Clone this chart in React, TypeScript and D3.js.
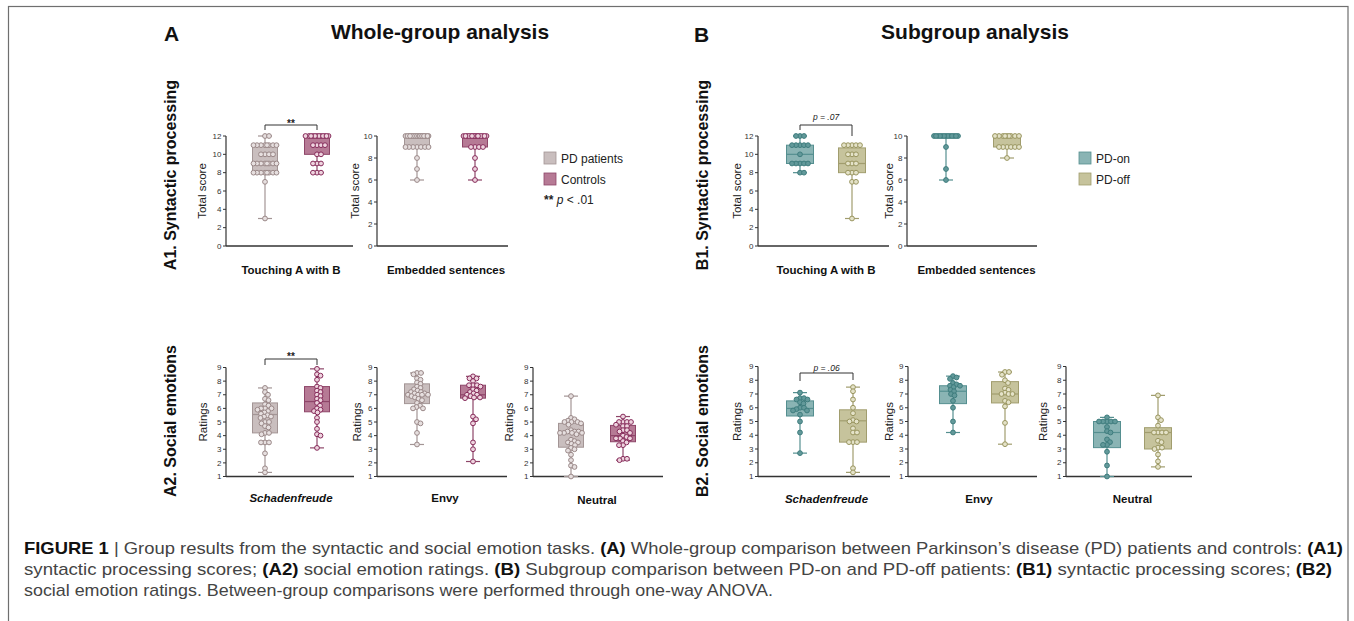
import React from "react";
import * as d3 from "d3";

// ---- values ----
// A1: syntactic processing (total score)
const touchPD = [12, 12, 11, 11, 11, 11, 11, 11, 11, 11, 10, 10, 10, 10, 9, 9, 9, 9, 9, 9, 9, 9, 8, 8, 8, 8, 8, 8, 8, 8, 7, 3];
const touchCtrl = [12, 12, 12, 12, 12, 12, 12, 12, 12, 12, 12, 12, 11, 11, 11, 11, 10, 10, 9, 9, 9, 8, 8, 8];
const embPD = [10, 10, 10, 10, 10, 10, 10, 10, 10, 10, 10, 10, 10, 10, 10, 10, 10, 10, 10, 10, 10, 10, 9, 9, 9, 9, 9, 9, 9, 8, 7, 6];
const embCtrl = [10, 10, 10, 10, 10, 10, 10, 10, 10, 10, 10, 10, 10, 10, 10, 10, 10, 9, 9, 9, 9, 8, 7, 6];
// A2: social emotions (ratings)
const schPD = [7.5, 7.2, 7.0, 6.7, 6.6, 6.3, 6.2, 6.0, 6.0, 6.0, 5.9, 5.8, 5.7, 5.6, 5.5, 5.4, 5.4, 5.3, 5.0, 5.0, 4.9, 4.7, 4.6, 4.2, 4.2, 4.1, 3.5, 3.5, 3.5, 2.7, 1.6, 1.3];
const schCtrl = [8.9, 8.5, 8.4, 8.1, 7.6, 7.5, 7.3, 7.2, 7.0, 6.9, 6.7, 6.6, 6.4, 6.2, 6.0, 5.9, 5.8, 5.7, 5.3, 5.0, 4.5, 4.1, 4.0, 3.1];
const envyPD = [8.6, 8.6, 8.5, 8.2, 8.1, 7.9, 7.8, 7.6, 7.5, 7.4, 7.3, 7.2, 7.2, 7.1, 7.1, 7.0, 7.0, 7.0, 7.0, 6.9, 6.8, 6.7, 6.6, 6.4, 6.2, 6.1, 6.0, 6.0, 5.0, 4.9, 4.2, 3.35];
const envyCtrl = [8.35, 8.2, 8.2, 8.0, 7.7, 7.7, 7.7, 7.6, 7.4, 7.3, 7.2, 7.1, 7.0, 7.0, 6.9, 6.8, 6.8, 6.75, 5.4, 5.2, 4.9, 3.5, 3.0, 2.1];
const neutPD = [6.9, 5.3, 5.2, 5.1, 5.0, 5.0, 5.0, 4.9, 4.8, 4.4, 4.3, 4.3, 4.3, 4.2, 4.2, 4.2, 4.2, 4.1, 3.7, 3.6, 3.5, 3.5, 3.4, 3.3, 3.1, 3.0, 2.9, 2.6, 2.2, 1.8, 1.7, 1.0];
const neutCtrl = [5.4, 5.0, 5.0, 5.0, 5.0, 4.8, 4.7, 4.7, 4.4, 4.4, 4.3, 4.2, 4.0, 3.9, 3.8, 3.8, 3.8, 3.6, 3.5, 3.3, 3.3, 2.3, 2.3, 2.2];
// B1 / B2: PD-on vs PD-off
const touchOn = [12, 12, 12, 11, 11, 11, 11, 11, 10, 9, 9, 9, 9, 9, 8, 8];
const touchOff = [11, 11, 11, 11, 11, 10, 10, 10, 9, 9, 9, 8, 8, 8, 7, 7, 3];
const embOn = [10, 10, 10, 10, 10, 10, 10, 10, 10, 10, 10, 10, 10, 9, 7, 6];
const embOff = [10, 10, 10, 10, 10, 10, 10, 10, 10, 9, 9, 9, 9, 9, 9, 8];
const schOn = [7.1, 6.7, 6.7, 6.6, 6.6, 6.4, 6.3, 6.0, 6.0, 5.9, 5.8, 5.8, 5.5, 5.0, 4.2, 2.7];
const schOff = [7.5, 7.2, 6.6, 6.0, 5.6, 5.1, 5.0, 5.0, 4.5, 4.2, 4.2, 3.5, 3.5, 3.5, 1.6, 1.3];
const envyOn = [8.3, 8.2, 8.1, 7.8, 7.7, 7.6, 7.6, 7.5, 7.3, 7.2, 7.0, 6.9, 6.5, 6.0, 5.0, 4.2];
const envyOff = [8.6, 8.6, 8.4, 8.0, 7.8, 7.4, 7.3, 7.1, 7.0, 7.0, 7.0, 6.5, 6.4, 6.1, 4.9, 3.35];
const neutOn = [5.3, 5.0, 5.0, 5.0, 5.0, 5.0, 4.6, 4.3, 4.2, 3.7, 3.5, 3.3, 3.3, 2.8, 1.8, 1.0];
const neutOff = [6.9, 5.3, 5.1, 4.7, 4.2, 4.2, 4.2, 4.2, 3.6, 3.5, 3.1, 3.1, 3.0, 2.6, 2.1, 1.7];

// box stats as drawn: [q1, median, q3]
const touchPDBox = [8, 9, 11];
const touchCtrlBox = [10, 12, 12];
const embPDBox = [9, 10, 10];
const embCtrlBox = [9, 10, 10];
const schPDBox = [4.2, 5.55, 6.4];
const schCtrlBox = [5.75, 6.5, 7.6];
const envyPDBox = [6.35, 7.05, 7.8];
const envyCtrlBox = [6.75, 7.0, 7.7];
const neutPDBox = [3.15, 4.2, 4.9];
const neutCtrlBox = [3.55, 4.0, 4.75];
const touchOnBox = [9, 10, 11];
const touchOffBox = [8, 9, 10.7];
const embOnBox = [10, 10, 10];
const embOffBox = [9, 10, 10];
const schOnBox = [5.4, 5.95, 6.5];
const schOffBox = [3.5, 5.05, 5.85];
const envyOnBox = [6.3, 7.2, 7.6];
const envyOffBox = [6.35, 7.0, 7.9];
const neutOnBox = [3.1, 4.2, 5.0];
const neutOffBox = [3.0, 4.2, 4.55];

const scoreTicks12 = [0, 2, 4, 6, 8, 10, 12];
const scoreTicks10 = [0, 2, 4, 6, 8, 10];
const ratingTicks = [1, 2, 3, 4, 5, 6, 7, 8, 9];

const FONT = "'Liberation Sans', Arial, Helvetica, sans-serif";

type Sty = { fill: string; edge: string; dot: string; dotFill: string };
const PD: Sty = { fill: "#c9bebe", edge: "#a39595", dot: "#9a8888", dotFill: "#e6dfdf" };
const CTRL: Sty = { fill: "#b67a95", edge: "#8e4669", dot: "#862b5a", dotFill: "#eed3de" };
const ON: Sty = { fill: "#8ab4b4", edge: "#558f90", dot: "#3f7d7e", dotFill: "#62999a" };
const OFF: Sty = { fill: "#c6c39c", edge: "#a19d6e", dot: "#99955f", dotFill: "#e4e2c8" };

type Group = { vals: number[]; box: number[]; st: Sty };
type Bracket = { y: number; l: number; r: number; label: string; ly: number; italic: boolean };
type PanelDef = {
  x: number; x2: number; y0: number; y1: number; dom: number[]; ticks: number[];
  yTitle: string; yTitleX: number; cat: string; italic: boolean; catY: number;
  cx: number[]; groups: Group[]; bw: number; bracket?: Bracket;
};

const panels: PanelDef[] = [
  { x: 226, x2: 353, y0: 246, y1: 136, dom: [0, 12], ticks: scoreTicks12, yTitle: "Total score", yTitleX: 206, cat: "Touching A with B", italic: false, catY: 274, cx: [265, 317], bw: 25,
    groups: [{ vals: touchPD, box: touchPDBox, st: PD }, { vals: touchCtrl, box: touchCtrlBox, st: CTRL }],
    bracket: { y: 125, l: 130, r: 130, label: "**", ly: 126.5, italic: false } },
  { x: 377, x2: 508, y0: 246, y1: 136, dom: [0, 10], ticks: scoreTicks10, yTitle: "Total score", yTitleX: 359, cat: "Embedded sentences", italic: false, catY: 274, cx: [417, 475], bw: 25,
    groups: [{ vals: embPD, box: embPDBox, st: PD }, { vals: embCtrl, box: embCtrlBox, st: CTRL }] },
  { x: 226, x2: 354, y0: 476.5, y1: 367.5, dom: [1, 9], ticks: ratingTicks, yTitle: "Ratings", yTitleX: 207, cat: "Schadenfreude", italic: true, catY: 502, cx: [265, 317], bw: 25,
    groups: [{ vals: schPD, box: schPDBox, st: PD }, { vals: schCtrl, box: schCtrlBox, st: CTRL }],
    bracket: { y: 359, l: 365, r: 365, label: "**", ly: 360, italic: false } },
  { x: 377, x2: 507, y0: 476.5, y1: 367.5, dom: [1, 9], ticks: ratingTicks, yTitle: "Ratings", yTitleX: 361, cat: "Envy", italic: false, catY: 502, cx: [417, 473], bw: 25,
    groups: [{ vals: envyPD, box: envyPDBox, st: PD }, { vals: envyCtrl, box: envyCtrlBox, st: CTRL }] },
  { x: 533, x2: 663, y0: 476.5, y1: 367.5, dom: [1, 9], ticks: ratingTicks, yTitle: "Ratings", yTitleX: 513, cat: "Neutral", italic: false, catY: 504, cx: [571, 623], bw: 25,
    groups: [{ vals: neutPD, box: neutPDBox, st: PD }, { vals: neutCtrl, box: neutCtrlBox, st: CTRL }] },
  { x: 758, x2: 889, y0: 246, y1: 136, dom: [0, 12], ticks: scoreTicks12, yTitle: "Total score", yTitleX: 741, cat: "Touching A with B", italic: false, catY: 274, cx: [800, 852], bw: 27,
    groups: [{ vals: touchOn, box: touchOnBox, st: ON }, { vals: touchOff, box: touchOffBox, st: OFF }],
    bracket: { y: 125, l: 130, r: 136, label: "p = .07", ly: 120, italic: true } },
  { x: 907, x2: 1037, y0: 246, y1: 136, dom: [0, 10], ticks: scoreTicks10, yTitle: "Total score", yTitleX: 893, cat: "Embedded sentences", italic: false, catY: 274, cx: [946, 1007], bw: 27,
    groups: [{ vals: embOn, box: embOnBox, st: ON }, { vals: embOff, box: embOffBox, st: OFF }] },
  { x: 758, x2: 890, y0: 476.5, y1: 366.5, dom: [1, 9], ticks: ratingTicks, yTitle: "Ratings", yTitleX: 741, cat: "Schadenfreude", italic: true, catY: 503, cx: [800, 853], bw: 27,
    groups: [{ vals: schOn, box: schOnBox, st: ON }, { vals: schOff, box: schOffBox, st: OFF }],
    bracket: { y: 373, l: 381, r: 380, label: "p = .06", ly: 370.5, italic: true } },
  { x: 908, x2: 1037, y0: 476.5, y1: 366.5, dom: [1, 9], ticks: ratingTicks, yTitle: "Ratings", yTitleX: 893, cat: "Envy", italic: false, catY: 503, cx: [953, 1005], bw: 27,
    groups: [{ vals: envyOn, box: envyOnBox, st: ON }, { vals: envyOff, box: envyOffBox, st: OFF }] },
  { x: 1066, x2: 1192, y0: 476.5, y1: 366.5, dom: [1, 9], ticks: ratingTicks, yTitle: "Ratings", yTitleX: 1047, cat: "Neutral", italic: false, catY: 503, cx: [1107, 1158], bw: 27,
    groups: [{ vals: neutOn, box: neutOnBox, st: ON }, { vals: neutOff, box: neutOffBox, st: OFF }] },
];

const R = 2.4;

// simple beeswarm: equal/close values spread sideways, kept inside the box width
function swarm(vals: number[], y: (v: number) => number, half: number) {
  const pts = vals.map((v) => ({ v, py: y(v), dx: 0 })).sort((a, b) => a.py - b.py);
  const placed: { py: number; dx: number }[] = [];
  const minD = 2 * R * 0.78;
  const cands = [0];
  for (let s = 0.5; s <= half; s += 0.5) cands.push(s, -s);
  for (const p of pts) {
    let best = 0, bestScore = -Infinity;
    for (const c of cands) {
      let md = Infinity;
      for (const q of placed) {
        const d = Math.hypot(c - q.dx, p.py - q.py);
        if (d < md) md = d;
      }
      if (md >= minD) { best = c; break; }
      if (md > bestScore) { bestScore = md; best = c; }
    }
    p.dx = best;
    placed.push(p);
  }
  return pts;
}

const Panel = ({ p }: { p: PanelDef }) => {
  const y = d3.scaleLinear().domain(p.dom).range([p.y0, p.y1]);
  const x = d3.scalePoint<number>().domain(p.groups.map((_, i) => i)).range(p.cx);
  const capW = 14;
  return (
    <g>
      {/* y axis */}
      <line x1={p.x} x2={p.x} y1={y(p.dom[0])} y2={y(p.dom[1])} stroke="#333" strokeWidth={1.2} />
      {p.ticks.map((t) => (
        <g key={t}>
          <line x1={p.x - 3} x2={p.x} y1={y(t)} y2={y(t)} stroke="#333" strokeWidth={1} />
          <text x={p.x - 4.5} y={y(t)} dy="0.34em" textAnchor="end" fontSize={8} fill="#333">{t}</text>
        </g>
      ))}
      {/* x axis */}
      <line x1={p.x} x2={p.x2} y1={p.y0} y2={p.y0} stroke="#333" strokeWidth={1.3} />
      <text transform={`translate(${p.yTitleX},${(p.y0 + p.y1) / 2}) rotate(-90)`} textAnchor="middle" fontSize={11.5} fill="#222">{p.yTitle}</text>
      <text x={(p.cx[0] + p.cx[1]) / 2} y={p.catY} textAnchor="middle" fontSize={11.5} fontWeight="bold" fontStyle={p.italic ? "italic" : "normal"} fill="#111">{p.cat}</text>
      {p.groups.map((g, i) => {
        const cx = x(i) as number;
        const mn = d3.min(g.vals) as number;
        const mx = d3.max(g.vals) as number;
        const [q1, med, q3] = g.box;
        const pts = swarm(g.vals, y, p.bw / 2 - 1);
        return (
          <g key={i}>
            <line x1={cx} x2={cx} y1={y(mn)} y2={y(mx)} stroke={g.st.edge} strokeWidth={1.2} />
            <line x1={cx - capW / 2} x2={cx + capW / 2} y1={y(mn)} y2={y(mn)} stroke={g.st.edge} strokeWidth={1.2} />
            <line x1={cx - capW / 2} x2={cx + capW / 2} y1={y(mx)} y2={y(mx)} stroke={g.st.edge} strokeWidth={1.2} />
            <rect x={cx - p.bw / 2} y={y(q3)} width={p.bw} height={Math.max(0, y(q1) - y(q3))} fill={g.st.fill} stroke={g.st.edge} strokeWidth={1} />
            <line x1={cx - p.bw / 2} x2={cx + p.bw / 2} y1={y(med)} y2={y(med)} stroke={g.st.edge} strokeWidth={1.2} />
            {pts.map((d, k) => (
              <circle key={k} cx={cx + d.dx} cy={d.py} r={R} fill={g.st.dotFill} stroke={g.st.dot} strokeWidth={1} />
            ))}
          </g>
        );
      })}
      {p.bracket && (
        <g>
          <path d={`M${p.cx[0]},${p.bracket.l}V${p.bracket.y}H${p.cx[1]}V${p.bracket.r}`} fill="none" stroke="#333" strokeWidth={1} />
          <text x={(p.cx[0] + p.cx[1]) / 2} y={p.bracket.ly} textAnchor="middle" fontSize={p.bracket.italic ? 8.5 : 10}
            fontWeight={p.bracket.italic ? "normal" : "bold"} fontStyle={p.bracket.italic ? "italic" : "normal"} fill="#222">{p.bracket.label}</text>
        </g>
      )}
    </g>
  );
};

const legendA = [{ label: "PD patients", st: PD }, { label: "Controls", st: CTRL }];
const legendB = [{ label: "PD-on", st: ON }, { label: "PD-off", st: OFF }];

const Legend = ({ items, x, y }: { items: { label: string; st: Sty }[]; x: number; y: number }) => (
  <g>
    {items.map((it, i) => (
      <g key={it.label} transform={`translate(${x},${y + i * 21})`}>
        <rect x={0} y={0} width={12} height={12} fill={it.st.fill} stroke={it.st.edge} strokeWidth={0.8} />
        <text x={17} y={10.5} fontSize={12} fill="#222">{it.label}</text>
      </g>
    ))}
  </g>
);

const rowLabels = [
  { text: "A1. Syntactic processing", x: 176, y: 175 },
  { text: "A2. Social emotions", x: 176, y: 421 },
  { text: "B1. Syntactic processing", x: 708, y: 175 },
  { text: "B2. Social emotions", x: 708, y: 421 },
];

const B = ({ children }: { children: React.ReactNode }) => <tspan fontWeight="bold" fill="#111">{children}</tspan>;

export default function App() {
  return (
    <svg width={1354} height={621} style={{ position: "absolute", left: 0, top: 0, background: "#fff" }} fontFamily={FONT}>
      <rect x={8.5} y={6.5} width={1339.5} height={700} fill="none" stroke="#6f6f6f" strokeWidth={1.2} />
      <text x={164} y={41} fontSize={21} fontWeight="bold" fill="#111">A</text>
      <text x={440} y={39} textAnchor="middle" fontSize={21} fontWeight="bold" fill="#111">Whole-group analysis</text>
      <text x={694} y={42} fontSize={21} fontWeight="bold" fill="#111">B</text>
      <text x={975} y={39} textAnchor="middle" fontSize={21} fontWeight="bold" fill="#111">Subgroup analysis</text>
      {rowLabels.map((r) => (
        <text key={r.text} transform={`translate(${r.x},${r.y}) rotate(-90)`} textAnchor="middle" fontSize={16} fontWeight="bold" fill="#111">{r.text}</text>
      ))}
      {panels.map((p, i) => <Panel key={i} p={p} />)}
      <Legend items={legendA} x={544} y={152} />
      <text x={544} y={204} fontSize={12} fill="#222">
        <tspan fontWeight="bold">**</tspan> <tspan fontStyle="italic">p</tspan> &lt; .01
      </text>
      <Legend items={legendB} x={1079} y={152} />
      <g fontSize={17} fill="#444" style={{ whiteSpace: "pre" }}>
        <text x={24} y={554} textLength={1319} lengthAdjust="spacingAndGlyphs">
          <B>FIGURE 1</B>{"  |  Group results from the syntactic and social emotion tasks. "}<B>(A)</B>{" Whole-group comparison between Parkinson’s disease (PD) patients and controls: "}<B>(A1)</B>
        </text>
        <text x={24} y={575} textLength={1308} lengthAdjust="spacingAndGlyphs">
          {"syntactic processing scores; "}<B>(A2)</B>{" social emotion ratings. "}<B>(B)</B>{" Subgroup comparison between PD-on and PD-off patients: "}<B>(B1)</B>{" syntactic processing scores; "}<B>(B2)</B>
        </text>
        <text x={24} y={596} textLength={749} lengthAdjust="spacingAndGlyphs">
          social emotion ratings. Between-group comparisons were performed through one-way ANOVA.
        </text>
      </g>
    </svg>
  );
}
